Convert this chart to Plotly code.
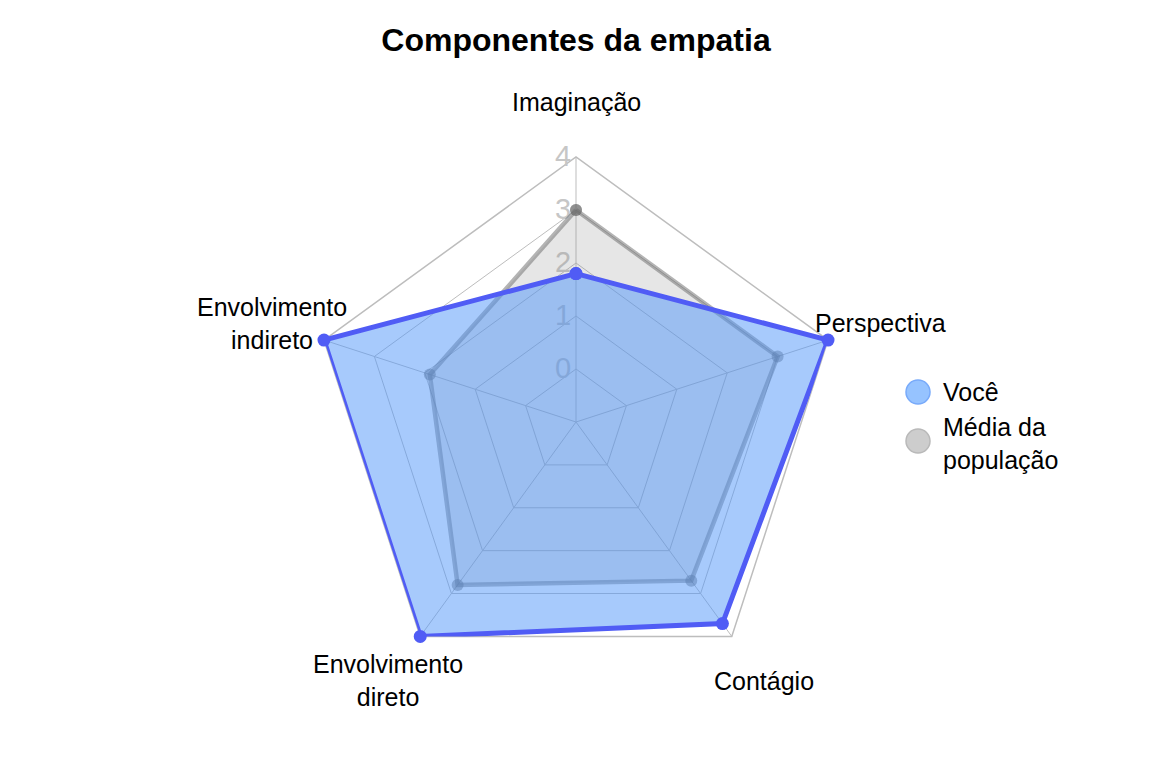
import math
import plotly.graph_objects as go

categories = ["Imaginação", "Perspectiva", "Contágio", "Envolvimento<br>direto", "Envolvimento<br>indireto"]
voce = [1.8, 4.0, 3.7, 4.0, 4.0]
media = [3.0, 3.0, 2.7, 2.8, 1.9]
radial_ticks = [0, 1, 2, 3, 4]
series_names = ["Você", "Média da<br>população"]

FONT = "Liberation Sans, Arial, sans-serif"
W, H = 1152, 768
R_MIN, R_MAX = -1, 4
DOM_Y = [(H - 687) / H, (H - 157) / H]
LABEL_RING = 1.208  # category labels centred at this fraction of the outer radius

fig = go.Figure()

fig.add_trace(go.Scatterpolar(
    r=media + media[:1], theta=categories + categories[:1],
    mode="lines+markers", fill="toself", cliponaxis=False,
    fillcolor="rgba(140,140,140,0.22)",
    line=dict(color="rgba(105,105,105,0.5)", width=4.5),
    marker=dict(color="rgba(105,105,105,0.5)", size=12),
    name=series_names[1], showlegend=False,
))
fig.add_trace(go.Scatterpolar(
    r=voce + voce[:1], theta=categories + categories[:1],
    mode="lines+markers", fill="toself", cliponaxis=False,
    fillcolor="rgba(80,150,250,0.5)",
    line=dict(color="rgb(80,92,245)", width=5),
    marker=dict(color="rgb(80,92,245)", size=13),
    name=series_names[0], showlegend=False,
))

fig.update_layout(
    width=W, height=H,
    margin=dict(l=0, r=0, t=0, b=0),
    paper_bgcolor="white",
    font=dict(family=FONT, size=25, color="black"),
    title=dict(text="<b>Componentes da empatia</b>", x=0.5, xanchor="center",
               y=1 - 40 / H, yanchor="middle", font=dict(size=32, color="black")),
    showlegend=False,
    polar=dict(
        domain=dict(x=[0, 1], y=DOM_Y),
        bgcolor="rgba(0,0,0,0)",
        gridshape="linear",
        angularaxis=dict(
            rotation=90, direction="clockwise", layer="below traces",
            showline=True, linecolor="#bdbdbd", linewidth=1.5,
            gridcolor="#bdbdbd", gridwidth=1.2,
            ticks="", showticklabels=False,
        ),
        radialaxis=dict(
            range=[R_MIN, R_MAX], tickvals=radial_ticks, angle=90,
            layer="below traces",
            showline=False, ticks="", side="counterclockwise",
            gridcolor="#bdbdbd", gridwidth=1.2,
            tickfont=dict(size=29, color="#c6c6c6"), tickangle=90,
        ),
    ),
)

# category labels centred on a ring outside the grid (layout derived from the polar domain)
cx = 0.5
cy = (DOM_Y[0] + DOM_Y[1]) / 2
outer_px = (DOM_Y[1] - DOM_Y[0]) * H / 2
n = len(categories)
for i, cat in enumerate(categories):
    ang = math.radians(90 - i * 360 / n)
    rp = outer_px * LABEL_RING
    fig.add_annotation(xref="paper", yref="paper",
                       x=cx + rp * math.cos(ang) / W, y=cy + rp * math.sin(ang) / H,
                       xanchor="center", yanchor="middle", align="center",
                       text=cat, showarrow=False,
                       font=dict(size=25, color="black", family=FONT))

# legend drawn manually (large circular symbols)
leg_x = 918
leg_items = [(series_names[0], 392, "rgba(150,195,255,1)", "rgba(120,170,250,1)"),
             (series_names[1], 441, "rgba(205,205,205,1)", "rgba(185,185,185,1)")]
for name, y, fc, lc in leg_items:
    fig.add_shape(type="circle", xref="paper", yref="paper",
                  x0=(leg_x - 12) / W, x1=(leg_x + 12) / W,
                  y0=1 - (y + 12) / H, y1=1 - (y - 12) / H,
                  fillcolor=fc, line=dict(color=lc, width=1.5))
    fig.add_annotation(xref="paper", yref="paper", x=(leg_x + 23) / W,
                       y=1 - (y + (2 if "<br>" in name else 0)) / H,
                       xanchor="left", yanchor="middle", align="left",
                       text=name, showarrow=False,
                       font=dict(size=25, color="black", family=FONT))

fig.write_html("out.html")
